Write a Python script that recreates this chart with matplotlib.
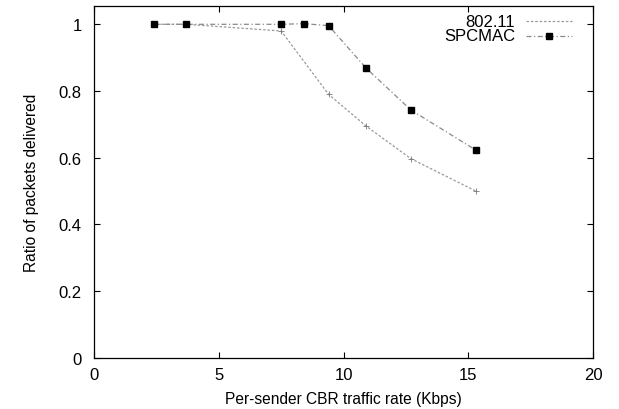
import matplotlib
matplotlib.use('Agg')
import matplotlib.pyplot as plt

plt.rcParams['font.family'] = ['Liberation Sans', 'DejaVu Sans']

# values
rate_80211 = [2.4, 3.7, 7.5, 9.4, 10.9, 12.7, 15.3]
ratio_80211 = [1.0, 1.0, 0.98, 0.79, 0.695, 0.597, 0.50]

rate_spcmac = [2.4, 3.7, 7.5, 8.4, 9.4, 10.9, 12.7, 15.3]
ratio_spcmac = [1.0, 1.0, 1.0, 1.002, 0.996, 0.869, 0.743, 0.623]

labels = ['802.11', 'SPCMAC']
xticks = [0, 5, 10, 15, 20]
yticks = [0, 0.2, 0.4, 0.6, 0.8, 1.0]
yticklabels = ['0', '0.2', '0.4', '0.6', '0.8', '1']

style_80211 = dict(color='#9a9a9a', lw=0.9, ls=(0, (2, 1.5)))
style_spcmac = dict(color='#8a8a8a', lw=0.9, ls=(0, (4, 2, 1, 2)))

fig = plt.figure(figsize=(6.19, 4.10), dpi=100)
ax = fig.add_axes([0.152, 0.125, 0.806, 0.858])

ax.plot(rate_80211, ratio_80211, marker='+', ms=4, mew=0.6, mec='#777777', **style_80211)
ax.plot(rate_spcmac, ratio_spcmac, marker='s', ms=5, mfc='black', mec='black', **style_spcmac)

ax.set_xlim(0, 20)
ax.set_ylim(0, 1.055)
ax.set_xticks(xticks)
ax.set_yticks(yticks)
ax.set_yticklabels(yticklabels)
ax.tick_params(direction='in', top=True, right=True, labelsize=12, length=4)
ax.tick_params(axis='x', pad=7)
ax.tick_params(axis='y', pad=9)
for s in ax.spines.values():
    s.set_linewidth(0.9)

ax.set_xlabel('Per-sender CBR traffic rate (Kbps)', fontsize=11.2, labelpad=6)
ax.set_ylabel('Ratio of packets delivered', fontsize=11.2, labelpad=14)

# key, right-aligned text like gnuplot
key_y = [0.957, 0.915]
ax.text(0.844, key_y[0], labels[0], transform=ax.transAxes, ha='right', va='center', fontsize=12)
ax.text(0.844, key_y[1], labels[1], transform=ax.transAxes, ha='right', va='center', fontsize=12)
ax.plot([0.866, 0.957], [key_y[0]] * 2, transform=ax.transAxes, **style_80211)
ax.plot([0.866, 0.957], [key_y[1]] * 2, transform=ax.transAxes, **style_spcmac)
ax.plot([0.9115], [key_y[1]], transform=ax.transAxes, marker='s', ms=5, color='black')

fig.savefig('out.png', dpi=100)
